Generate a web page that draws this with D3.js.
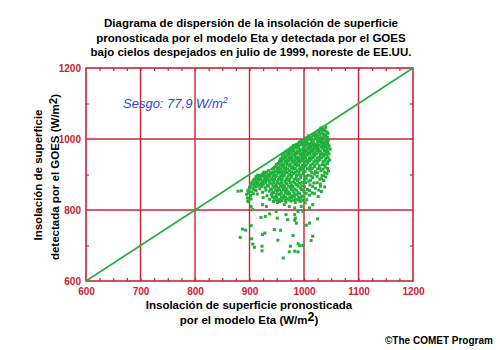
<!DOCTYPE html>
<html><head><meta charset="utf-8">
<script src="https://cdn.jsdelivr.net/npm/d3@7"></script>
<style>body{margin:0;background:#fff}svg{display:block}</style>
</head><body>
<svg id="c" width="500" height="350"></svg>
<script>
const titleLines = ["Diagrama de dispersión de la insolación de superficie","pronosticada por el modelo Eta y detectada por el GOES","bajo cielos despejados en julio de 1999, noreste de EE.UU."];
const xTitleLines = ["Insolación de superficie pronosticada","por el modelo Eta (W/m"];
const yTitleLines = ["Insolación de superficie","detectada por el GOES (W/m"];
const xTicks = [600,700,800,900,1000,1100,1200];
const yTicks = [600,800,1000,1200];
const xGrid = [700,800,900,1000,1100];
const yGrid = [800,1000];
const biasLabel = "Sesgo: 77,9 W/m";
const credit = "©The COMET Program";
// [Eta forecast, GOES observed] in W/m2
const observations = [
[1031,1031],[1036,1028],[1040,1033],[1038,1024],
[1027,1021],[1033,1018],[1042,1020],[1022,1015],[1029,1013],[1037,1014],[1044,1016],
[1008,1009],[1014,1006],[1019,1010],[1025,1007],[1031,1004],[1038,1008],[1043,1005],[1012,1001],[1004,1003],
[999,997],[1006,996],[1011,999],[1017,995],[1023,1000],[1028,996],[1034,999],[1040,994],[1045,998],
[991,991],[996,988],[1002,992],[1008,987],[1014,990],[1020,986],[1026,991],[1031,988],[1037,990],[1043,986],[986,985],
[981,982],[987,979],[993,983],[999,980],[1004,984],[1010,978],[1016,982],[1022,979],[1028,983],[1034,980],[1039,977],[1046,981],
[975,974],[980,971],[986,975],[992,970],[998,973],[1004,969],[1010,974],[1016,971],[1021,975],[1027,970],[1035,973],[1041,968],[1048,972],[970,968],
[966,964],[972,961],[978,965],[984,960],[990,963],[996,959],[1002,964],[1008,961],[1014,965],[1020,960],[1026,963],[1033,959],[1040,962],[1046,958],
[960,955],[965,951],[971,954],[977,950],[983,953],[989,949],[995,954],[1001,951],[1007,955],[1013,950],[1020,953],[1028,949],[1036,952],[1044,948],
[957,944],[963,945],[969,940],[975,943],[981,939],[987,944],[993,941],[999,945],[1006,940],[1013,943],[1021,939],[1029,942],[1038,938],[1047,941],
[953,931],[957,935],[962,930],[968,933],[974,929],[980,934],[986,931],[993,935],[1000,930],[1007,933],[1015,929],[1024,932],[1034,928],[1043,931],
[946,921],[950,925],[954,920],[960,923],[966,919],[973,924],[980,921],[987,925],[994,920],[1002,923],[1010,919],[1019,922],[1029,918],[1039,921],
[935,911],[941,915],[947,910],[953,913],[959,909],[966,914],[973,911],[980,915],[987,910],[994,913],[1002,909],[1011,912],[1021,908],[1031,911],[1045,910],
[918,894],[923,901],[928,905],[934,900],[940,903],[946,899],[953,904],[960,901],[967,905],[974,900],[981,903],[989,899],[998,902],[1008,898],[1019,901],[1033,897],[1042,903],
[912,894],[917,891],[923,895],[929,890],[935,893],[941,889],[948,894],[955,891],[962,895],[969,890],[977,893],[985,889],[994,892],[1004,888],[1016,891],[1029,887],[1040,893],
[907,884],[912,881],[918,885],[924,880],[930,883],[936,879],[944,884],[951,881],[958,885],[965,880],[972,883],[980,879],[988,882],[997,878],[1009,881],[1024,877],[1036,883],
[903,874],[908,871],[914,875],[920,870],[926,873],[933,869],[941,874],[948,871],[955,875],[962,870],[969,873],[977,869],[986,872],[996,868],[1011,871],[1030,873],
[900,864],[906,861],[912,865],[919,860],[929,863],[939,859],[946,864],[953,861],[960,865],[967,860],[975,863],[983,859],[993,862],[1006,858],[1021,861],[1038,865],
[897,854],[904,851],[912,855],[924,850],[937,853],[944,849],[951,854],[958,851],[965,855],[972,850],[980,853],[989,849],[1000,852],[1015,848],[1032,852],
[895,844],[902,841],[914,845],[932,840],[940,843],[948,839],[955,844],[963,841],[970,845],[978,840],[986,843],[996,839],[1010,842],[1026,838],
[896,834],[903,831],[925,835],[937,830],[945,833],[953,829],[961,834],[969,831],[977,835],[985,830],[994,833],[1005,829],
[898,826],[944,824],[951,821],[959,826],[967,822],[976,825],[984,821],[993,824],[1002,820],
[1034,1026],[1029,1025],
[1017,1013],[1023,1012],[1035,1011],[1040,1010],
[1009,1003],[1021,1003],[1027,1002],[1036,1002],[1001,1000],
[994,994],[1003,994],[1014,993],[1025,994],[1032,993],[1043,992],
[989,985],[998,986],[1005,987],[1011,984],[1017,986],[1024,984],[1036,985],[1041,983],
[978,977],[984,977],[990,976],[1001,977],[1007,976],[1013,977],[1019,978],[1025,976],[1031,977],[1043,975],
[969,966],[975,968],[981,967],[987,966],[993,967],[999,966],[1005,967],[1011,968],[1017,967],[1023,968],[1030,966],[1037,967],[1044,965],
[963,959],[969,958],[975,958],[981,957],[987,958],[993,957],[999,958],[1005,957],[1011,959],[1017,957],[1023,958],[1030,956],[1037,957],[1042,955],
[960,947],[966,948],[972,947],[978,946],[984,947],[990,946],[996,948],[1003,947],[1010,946],[1017,948],[1024,946],[1032,947],[1040,945],
[955,938],[960,939],[966,937],[972,938],[978,937],[984,938],[990,937],[996,939],[1003,937],[1010,938],[1018,936],[1026,938],[1035,936],[1044,937],
[949,928],[957,927],[963,926],[969,927],[976,926],[983,928],[990,927],[997,926],[1004,927],[1012,926],[1020,927],[1028,925],[1038,927],
[944,917],[951,917],[957,916],[963,917],[970,916],[977,918],[984,917],[991,916],[998,917],[1006,916],[1015,917],[1025,916],[1035,915],[1043,917],
[926,906],[931,907],[938,906],[944,906],[950,907],[956,906],[963,907],[970,906],[977,907],[984,906],[991,906],[999,907],[1014,906],[1025,905],[1038,906],
[915,898],[920,897],[926,897],[931,896],[937,897],[943,896],[950,897],[957,896],[964,898],[971,896],[978,897],[986,896],[994,897],[1003,895],[1013,896],[1024,895],[1036,897],
[910,888],[915,887],[921,886],[927,887],[933,886],[939,885],[946,887],[953,886],[960,887],[967,886],[974,887],[982,886],[991,887],[1001,886],[1012,884],[1032,888],
[905,878],[910,876],[916,877],[922,876],[929,877],[938,876],[945,877],[952,876],[959,877],[967,876],[975,877],[983,876],[992,875],[1003,877],[1018,876],
[902,868],[909,867],[915,868],[923,866],[935,867],[943,867],[950,866],[957,868],[964,866],[972,867],[980,866],[989,867],[1001,866],[1016,866],[1030,867],
[899,857],[908,857],[930,856],[941,857],[948,856],[955,857],[962,858],[969,856],[977,857],[986,856],[996,857],[1010,855],[1027,856],
[898,848],[907,846],[942,847],[950,846],[958,847],[966,848],[974,846],[982,847],[992,846],[1004,847],[1019,846],
[942,837],[950,836],[958,837],[966,836],[974,837],[982,838],[990,836],[1000,837],
[949,828],[957,829],[965,828],[973,829],[981,828],[990,828],[998,827],
[897,824],[903,810],[906,801],[924,815],[931,810],[955,824],[964,815],[973,810],[983,806],[995,810],[1010,806],[1016,815],
[921,779],[929,782],[937,789],[949,796],[951,777],[967,787],[970,773],[983,787],[984,777],[989,796],[998,796],[1025,775],
[924,731],[928,735],[946,745],[957,743],[983,771],[986,763],[1004,757],[1010,763],[903,756],[887,746],[893,743],
[883,723],[904,719],[952,715],[980,728],[1016,726],[1013,714],
[906,704],[909,695],[923,698],[923,685],[975,698],[989,705],[992,700],[998,700],[983,684],[989,682],[973,682],[962,665],
[879,853],[885,854]
];

const svg = d3.select("#c");
const red = "#cc2233";
const green = "#22b03c";
const x = d3.scaleLinear().domain([600,1200]).range([86,413]);
const y = d3.scaleLinear().domain([600,1200]).range([281,68]);
const font = "'Liberation Sans', Arial, sans-serif";

// title
svg.append("g").selectAll("text").data(titleLines).join("text")
  .attr("x",251).attr("y",(d,i)=>27+i*14.5)
  .attr("text-anchor","middle").attr("font-family",font).attr("font-weight","bold")
  .attr("font-size",11.5).attr("fill","#000").text(d=>d);

// grid
const g = svg.append("g");
g.selectAll("line.vx").data(xGrid).join("line")
  .attr("x1",d=>x(d)).attr("x2",d=>x(d)).attr("y1",y(600)).attr("y2",y(1200))
  .attr("stroke",red).attr("stroke-width",1.4);
g.selectAll("line.hy").data(yGrid).join("line")
  .attr("y1",d=>y(d)).attr("y2",d=>y(d)).attr("x1",x(600)).attr("x2",x(1200))
  .attr("stroke",red).attr("stroke-width",1.4);

// minor ticks via axes
const tickFmt = () => "";
const axTop = d3.axisBottom(x).tickValues(d3.range(625,1200,25)).tickSize(3).tickFormat(tickFmt);
const axBot = d3.axisTop(x).tickValues(d3.range(625,1200,25)).tickSize(3).tickFormat(tickFmt);
const axL = d3.axisRight(y).tickValues([700,900,1100]).tickSize(3).tickFormat(tickFmt);
const axR = d3.axisLeft(y).tickValues([700,900,1100]).tickSize(3).tickFormat(tickFmt);
[[axTop,`translate(0,${y(1200)})`],[axBot,`translate(0,${y(600)})`],[axL,`translate(${x(600)},0)`],[axR,`translate(${x(1200)},0)`]].forEach(([a,t])=>{
  const gg = svg.append("g").attr("transform",t).call(a);
  gg.select(".domain").remove();
  gg.selectAll("line").attr("stroke",red).attr("stroke-width",1.2);
});

// tick labels
const xl = d3.axisBottom(x).tickValues(xTicks).tickSize(0).tickPadding(6).tickFormat(d3.format("d"));
const gx = svg.append("g").attr("transform",`translate(0,${y(600)+1})`).call(xl);
gx.select(".domain").remove();
gx.selectAll("text").attr("fill",red).attr("font-family",font).attr("font-weight","bold").attr("font-size",10);
const yl = d3.axisLeft(y).tickValues(yTicks).tickSize(0).tickPadding(4).tickFormat(d3.format("d"));
const gy = svg.append("g").attr("transform",`translate(${x(600)-1},0)`).call(yl);
gy.select(".domain").remove();
gy.selectAll("text").attr("fill",red).attr("font-family",font).attr("font-weight","bold").attr("font-size",10);

// border
svg.append("rect").attr("x",x(600)).attr("y",y(1200)).attr("width",x(1200)-x(600)).attr("height",y(600)-y(1200))
  .attr("fill","none").attr("stroke",red).attr("stroke-width",1.6);

// 1:1 line
svg.append("line").attr("x1",x(600)).attr("y1",y(600)).attr("x2",x(1200)).attr("y2",y(1200))
  .attr("stroke",green).attr("stroke-width",1.6);

// points
svg.append("g").selectAll("rect").data(observations).join("rect")
  .attr("x",d=>x(d[0])-1.5).attr("y",d=>y(d[1])-1.5).attr("width",3).attr("height",3)
  .attr("fill",green);

// bias label
const bt = svg.append("text").attr("x",123).attr("y",108).attr("font-family",font)
  .attr("font-style","italic").attr("font-size",13).attr("fill","#2f3fe0");
bt.append("tspan").text(biasLabel);
bt.append("tspan").attr("font-size",9).attr("dy",-5).text("2");

// x title
const xt = svg.append("g").attr("font-family",font).attr("font-weight","bold").attr("font-size",11.5).attr("fill","#000");
xt.append("text").attr("x",249).attr("y",309).attr("text-anchor","middle").text(xTitleLines[0]);
const xt2 = xt.append("text").attr("x",249).attr("y",324).attr("text-anchor","middle");
xt2.append("tspan").text(xTitleLines[1]);
xt2.append("tspan").attr("font-size",12.5).attr("dy",-3).text("2");
xt2.append("tspan").attr("dy",3).text(")");

// y title
const yt = svg.append("g").attr("font-family",font).attr("font-weight","bold").attr("font-size",11.5).attr("fill","#000");
yt.append("text").attr("transform","translate(42,175) rotate(-90)").attr("text-anchor","middle").text(yTitleLines[0]);
const yt2 = yt.append("text").attr("transform","translate(59,177) rotate(-90)").attr("text-anchor","middle");
yt2.append("tspan").text(yTitleLines[1]);
yt2.append("tspan").attr("dy",-2).text("2");
yt2.append("tspan").attr("dy",2).text(")");

// credit
svg.append("text").attr("x",385).attr("y",344).attr("font-family",font).attr("font-weight","bold")
  .attr("font-size",10).attr("fill","#000").text(credit);
</script>
</body></html>
